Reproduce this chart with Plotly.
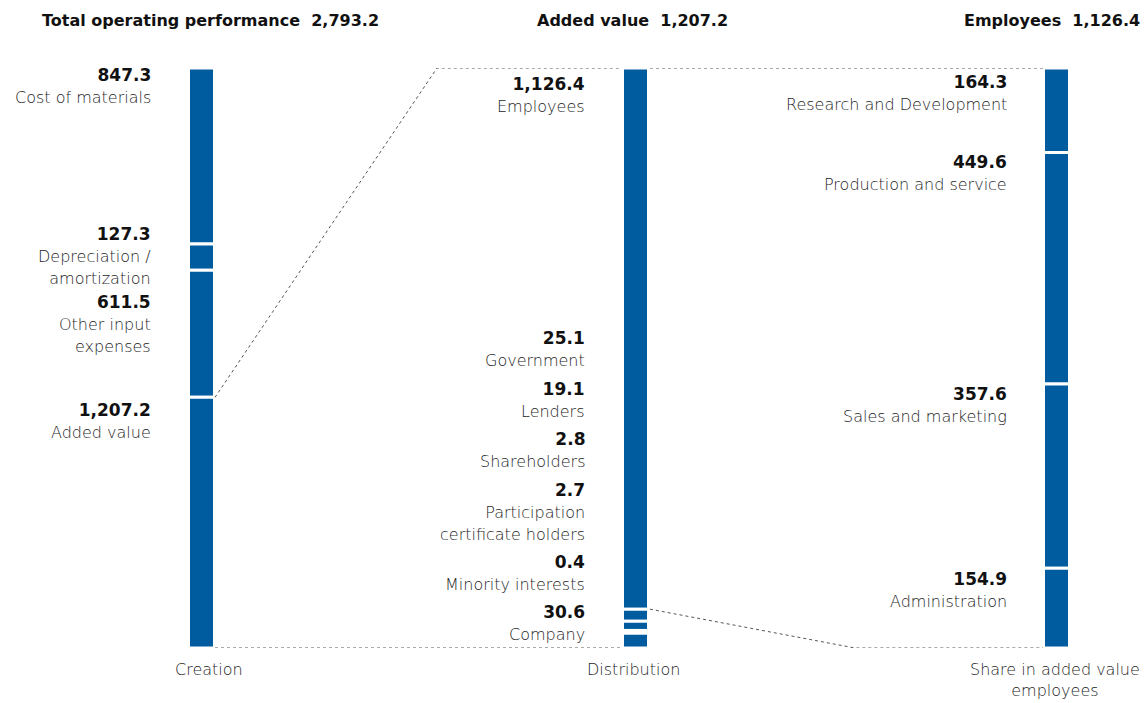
import plotly.graph_objects as go

# ---------------- data ----------------
creation_labels = ["Cost of materials", "Depreciation /<br>amortization", "Other input<br>expenses", "Added value"]
creation_values = [847.3, 127.3, 611.5, 1207.2]
creation_total = 2793.2

distribution_labels = ["Employees", "Government", "Lenders", "Shareholders",
                       "Participation<br>certificate holders", "Minority interests", "Company"]
distribution_values = [1126.4, 25.1, 19.1, 2.8, 2.7, 0.4, 30.6]
distribution_total = 1207.2

employee_labels = ["Research and Development", "Production and service", "Sales and marketing", "Administration"]
employee_values = [164.3, 449.6, 357.6, 154.9]
employee_total = 1126.4

headers = ["Total operating performance  2,793.2", "Added value  1,207.2", "Employees  1,126.4"]
footers = ["Creation", "Distribution", "Share in added value<br>employees"]

# ---------------- layout constants (pixels) ----------------
W, H = 1146, 703
TOP, BOTTOM = 68, 648
BAR_X = [201.5, 635.5, 1056.5]
BAR_W = 26
LABEL_RIGHT = [152, 586, 1008]
label_centers = [
    [75, 234, 302, 410],
    [84, 338, 389, 439, 490, 562, 612],
    [82, 162, 394, 579],
]
BLUE = "#005b9f"
FONT = "DejaVu Sans"
LABEL_COLOR = "#1e1e1e"


def py(px):
    # pixel row -> paper y (paper 1 = top of plot area, 0 = bottom)
    return (BOTTOM - px) / (BOTTOM - TOP)


def fmt(v):
    return f"{v:,.1f}"


fig = go.Figure()

columns = [
    (creation_labels, creation_values, creation_total),
    (distribution_labels, distribution_values, distribution_total),
    (employee_labels, employee_values, employee_total),
]

for ci, (labels, values, total) in enumerate(columns):
    cum = 0.0
    bases, heights = [], []
    for v in values:
        bases.append(cum / total)
        heights.append(v / total)
        cum += v
    fig.add_trace(go.Bar(
        x=[BAR_X[ci]] * len(values), y=heights, base=bases, width=BAR_W,
        marker=dict(color=BLUE, line=dict(color="white", width=3)),
        hoverinfo="skip", showlegend=False,
    ))
    for li, (lab, v) in enumerate(zip(labels, values)):
        fig.add_annotation(
            x=LABEL_RIGHT[ci], y=py(label_centers[ci][li] - 11), xref="x", yref="paper",
            xanchor="right", yanchor="top", align="right", showarrow=False, borderpad=0,
            text=f"<b>{fmt(v)}</b><br><span style='font-weight:300;font-size:16px;color:{LABEL_COLOR}'>{lab}</span>",
            font=dict(family=FONT, size=17, color="#111"),
        )

# connector lines
av_top = sum(creation_values[:3]) / creation_total
emp_end = distribution_values[0] / distribution_total
dot = dict(color="#555", width=1, dash="dot")
connectors = [
    ([215, 437, 620], [av_top, 0, 0]),
    ([215, 620], [1, 1]),
    ([650, 1043], [0, 0]),
    ([650, 855, 1043], [emp_end, 1, 1]),
]
for xs, ys in connectors:
    fig.add_trace(go.Scatter(x=xs, y=ys, mode="lines", line=dot,
                             hoverinfo="skip", showlegend=False, cliponaxis=False))

# headers
hdr_pos = [(381, "right"), (632, "center"), (1142, "right")]
for (hx, anc), txt in zip(hdr_pos, headers):
    fig.add_annotation(x=hx, y=py(20), xref="x", yref="paper", xanchor=anc, yanchor="middle",
                       showarrow=False, text=f"<b>{txt}</b>",
                       font=dict(family=FONT, size=16, color="#111"))

# footers
ftr_x = [209, 633, 1055]
for fx, txt in zip(ftr_x, footers):
    fig.add_annotation(x=fx, y=py(670 - 11), xref="x", yref="paper", xanchor="center", yanchor="top",
                       showarrow=False, text=txt, borderpad=0,
                       font=dict(family=FONT, size=16, color=LABEL_COLOR, weight=300))

fig.update_layout(
    width=W, height=H, margin=dict(l=0, r=0, t=TOP, b=H - BOTTOM),
    plot_bgcolor="white", paper_bgcolor="white", barmode="overlay",
    xaxis=dict(range=[0, W], visible=False, fixedrange=True),
    yaxis=dict(range=[1, 0], visible=False, fixedrange=True),
)

fig.write_html("out.html", config={"displayModeBar": False})
